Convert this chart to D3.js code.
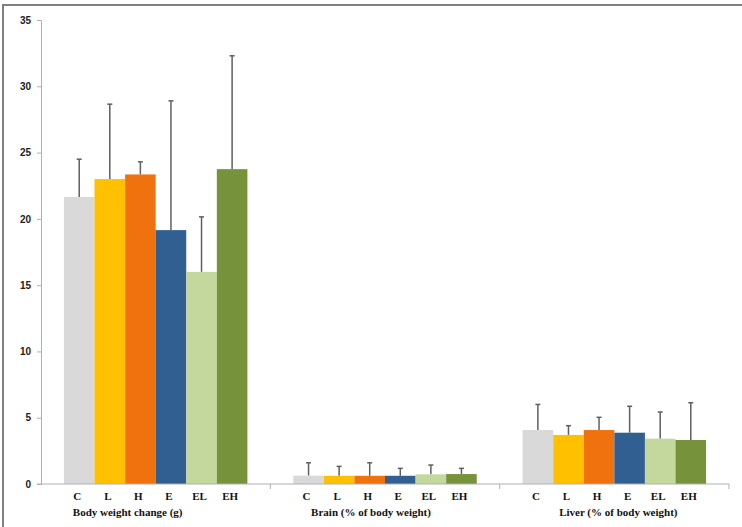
<!DOCTYPE html>
<html>
<head>
<meta charset="utf-8">
<script src="https://cdn.jsdelivr.net/npm/d3@7"></script>
<style>
	body { margin: 0; background: #fff; }
	svg { display: block; }
	.tick-label { font-family: "Liberation Sans", Arial, sans-serif; font-weight: bold; font-size: 10px; fill: #222; }
	.cat-label { font-family: "Liberation Serif", "Times New Roman", serif; font-weight: bold; font-size: 11px; fill: #111; }
</style>
</head>
<body>
<div id="chart"></div>
<script>

var groups = ['Body weight change (g)', 'Brain (% of body weight)', 'Liver (% of body weight)']
var series = ['C', 'L', 'H', 'E', 'EL', 'EH']
var colors = ['#d9d9d9', '#ffc000', '#f0720f', '#325f91', '#c4d89e', '#76933c']

// mean and upper end of error bar, one row per group
var means = [
	[21.65, 23.0, 23.35, 19.15, 16.0, 23.75],
	[0.63, 0.62, 0.62, 0.62, 0.73, 0.75],
	[4.07, 3.70, 4.07, 3.87, 3.42, 3.32]
]
var upper = [
	[24.5, 28.65, 24.3, 28.9, 20.15, 32.3],
	[1.6, 1.33, 1.6, 1.18, 1.43, 1.18],
	[6.0, 4.4, 5.03, 5.86, 5.43, 6.13]
]
var yTicks = [0, 5, 10, 15, 20, 25, 30, 35]

var width = 742,
	height = 527

var svg = d3.select('#chart')
	.append('svg')
	.attr('width', width)
	.attr('height', height)

// outer frame of the figure
svg.append('path')
	.attr('d', 'M3,' + height + 'V5H' + width)
	.attr('fill', 'none')
	.attr('stroke', '#808080')
	.attr('stroke-width', 2)

var y = d3.scaleLinear()
	.domain([0, 35])
	.range([484, 20])

var x0 = d3.scaleBand()
	.domain(groups)
	.range([41, 729])

var x1 = d3.scaleBand()
	.domain(series)
	.range([0, x0.bandwidth()])
	.paddingOuter(0.75)

var axisColor = '#b0b0b0'

// y axis
var yAxis = svg.append('g')
	.attr('transform', 'translate(41,0)')
	.call(d3.axisLeft(y).tickValues(yTicks).tickSize(4).tickPadding(6))

yAxis.select('.domain').attr('stroke', axisColor)
yAxis.selectAll('.tick line').attr('stroke', axisColor)
yAxis.selectAll('.tick text')
	.attr('class', 'tick-label')
	.attr('font-family', null)
	.attr('font-size', null)

// bars and error bars
var rows = groups.map((g, gi) => series.map((s, si) => ({
	group: g, key: s, mean: means[gi][si], hi: upper[gi][si], color: colors[si]
})))

var gGroups = svg.selectAll('g.group')
	.data(rows)
	.join('g')
	.attr('class', 'group')
	.attr('transform', (d, i) => 'translate(' + x0(groups[i]) + ',0)')

gGroups.selectAll('line.err')
	.data(d => d)
	.join('line')
	.attr('class', 'err')
	.attr('x1', d => x1(d.key) + x1.bandwidth() / 2)
	.attr('x2', d => x1(d.key) + x1.bandwidth() / 2)
	.attr('y1', d => y(d.mean))
	.attr('y2', d => y(d.hi))
	.attr('stroke', '#5f5f5f')
	.attr('stroke-width', 1.5)

gGroups.selectAll('line.cap')
	.data(d => d)
	.join('line')
	.attr('class', 'cap')
	.attr('x1', d => x1(d.key) + x1.bandwidth() / 2 - 2.5)
	.attr('x2', d => x1(d.key) + x1.bandwidth() / 2 + 2.5)
	.attr('y1', d => y(d.hi))
	.attr('y2', d => y(d.hi))
	.attr('stroke', '#5f5f5f')
	.attr('stroke-width', 1.5)

gGroups.selectAll('rect')
	.data(d => d)
	.join('rect')
	.attr('x', d => x1(d.key))
	.attr('width', x1.bandwidth())
	.attr('y', d => y(d.mean))
	.attr('height', d => y(0) - y(d.mean))
	.attr('fill', d => d.color)

gGroups.selectAll('text.cat-label.series')
	.data(d => d)
	.join('text')
	.attr('class', 'cat-label series')
	.attr('x', d => x1(d.key) + x1.bandwidth() / 2 - 2)
	.attr('y', 500)
	.attr('text-anchor', 'middle')
	.text(d => d.key)

// x axis with tick marks between groups
var xAxis = svg.append('g')
	.attr('transform', 'translate(0,' + y(0) + ')')

xAxis.append('line')
	.attr('x1', 37)
	.attr('x2', 729)
	.attr('stroke', axisColor)

xAxis.selectAll('line.tk')
	.data(groups)
	.join('line')
	.attr('class', 'tk')
	.attr('x1', d => x0(d) + x0.bandwidth())
	.attr('x2', d => x0(d) + x0.bandwidth())
	.attr('y1', 0)
	.attr('y2', 5)
	.attr('stroke', axisColor)

// group titles (placed slightly off-centre as in the original)
var titleShift = [-28, -14, 4]

svg.selectAll('text.group-title')
	.data(groups)
	.join('text')
	.attr('class', 'cat-label group-title')
	.attr('x', (d, i) => x0(d) + x0.bandwidth() / 2 + titleShift[i])
	.attr('y', 516)
	.attr('text-anchor', 'middle')
	.text(d => d)

</script>
</body>
</html>
